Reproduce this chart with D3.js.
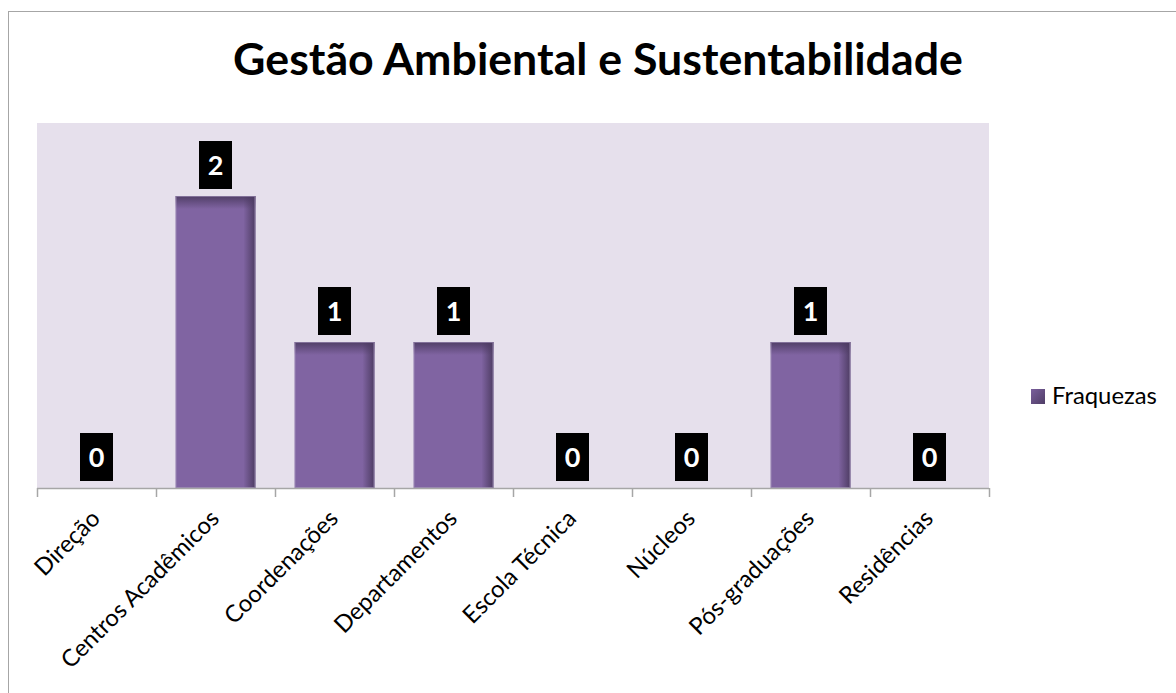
<!DOCTYPE html>
<html>
<head>
<meta charset="utf-8">
<script src="https://cdn.jsdelivr.net/npm/d3@7"></script>
<style>
  body { margin: 0; background: #fff; }
  svg { display: block; }
  text { font-family: Lato, "Open Sans", sans-serif; }
</style>
</head>
<body>
<div id="chart"></div>
<script>
// Dimensions
const width = 1176;
const height = 693;
const plot = {left: 37, right: 989, top: 123, bottom: 488};

// Data
const title = "Gestão Ambiental e Sustentabilidade";
const seriesName = "Fraquezas";
const categories = ["Direção", "Centros Acadêmicos", "Coordenações", "Departamentos",
                    "Escola Técnica", "Núcleos", "Pós-graduações", "Residências"];
const values = [0, 2, 1, 1, 0, 0, 1, 0];
const yMax = 2.5;

// Colours
const barColour = "#8064a2";
const barDark = "#4b3a60";
const plotBg = "#e6e0ec";

const svg = d3.select("#chart").append("svg")
    .attr("width", width)
    .attr("height", height);

const defs = svg.append("defs");

// Shading at the top edge of the bars
const topGrad = defs.append("linearGradient")
    .attr("id", "topShade")
    .attr("x1", "0%").attr("y1", "0%").attr("x2", "0%").attr("y2", "100%");
topGrad.append("stop").attr("offset", "0%").attr("stop-color", barDark).attr("stop-opacity", 0.9);
topGrad.append("stop").attr("offset", "100%").attr("stop-color", barDark).attr("stop-opacity", 0);

// Shading at the right edge of the bars
const rightGrad = defs.append("linearGradient")
    .attr("id", "rightShade")
    .attr("x1", "0%").attr("y1", "0%").attr("x2", "100%").attr("y2", "0%");
rightGrad.append("stop").attr("offset", "0%").attr("stop-color", barDark).attr("stop-opacity", 0);
rightGrad.append("stop").attr("offset", "100%").attr("stop-color", barDark).attr("stop-opacity", 0.95);

// Legend swatch gradient
const legGrad = defs.append("linearGradient")
    .attr("id", "legShade")
    .attr("x1", "0%").attr("y1", "0%").attr("x2", "100%").attr("y2", "100%");
legGrad.append("stop").attr("offset", "0%").attr("stop-color", "#7a5f9c");
legGrad.append("stop").attr("offset", "100%").attr("stop-color", "#4f3d66");

// Chart frame
svg.append("rect")
    .attr("x", 8.5).attr("y", 11.5)
    .attr("width", 1300).attr("height", 900)
    .attr("fill", "#fff")
    .attr("stroke", "#a6a6a6");

// Plot background
svg.append("rect")
    .attr("x", plot.left).attr("y", plot.top)
    .attr("width", plot.right - plot.left)
    .attr("height", plot.bottom - plot.top)
    .attr("fill", plotBg);

// Scales
const xOuter = d3.scaleBand()
    .domain(categories)
    .range([plot.left, plot.right])
    .padding(0);

const x = d3.scaleBand()
    .domain(categories)
    .range([plot.left, plot.right])
    .paddingInner(0.33)
    .paddingOuter(0.165);

const y = d3.scaleLinear()
    .domain([0, yMax])
    .range([plot.bottom, plot.top]);

const data = categories.map((c, i) => ({cat: c, value: values[i]}));

// Bars
const bars = svg.append("g").selectAll("g.bar")
    .data(data.filter(d => d.value > 0))
    .join("g")
    .attr("class", "bar");

bars.append("rect")
    .attr("x", d => x(d.cat))
    .attr("y", d => y(d.value))
    .attr("width", x.bandwidth())
    .attr("height", d => y(0) - y(d.value))
    .attr("fill", barColour);

bars.append("rect")
    .attr("x", d => x(d.cat) + x.bandwidth() - 12)
    .attr("y", d => y(d.value))
    .attr("width", 12)
    .attr("height", d => y(0) - y(d.value))
    .attr("fill", "url(#rightShade)");

bars.append("rect")
    .attr("x", d => x(d.cat))
    .attr("y", d => y(d.value))
    .attr("width", x.bandwidth())
    .attr("height", 13)
    .attr("fill", "url(#topShade)");

bars.append("rect")
    .attr("x", d => x(d.cat) + 0.5)
    .attr("y", d => y(d.value) + 0.5)
    .attr("width", x.bandwidth() - 1)
    .attr("height", d => y(0) - y(d.value) - 1)
    .attr("fill", "none")
    .attr("stroke", "#a493bb")
    .attr("stroke-opacity", 0.6);

// Category axis
const axisG = svg.append("g");
axisG.append("line")
    .attr("x1", plot.left).attr("x2", plot.right)
    .attr("y1", plot.bottom + 0.5).attr("y2", plot.bottom + 0.5)
    .attr("stroke", "#a6a6a6").attr("stroke-width", 1.5);

const tickPos = categories.map(c => xOuter(c)).concat([plot.right]);
axisG.selectAll("line.tick")
    .data(tickPos)
    .join("line")
    .attr("class", "tick")
    .attr("x1", d => Math.round(d) + 0.5).attr("x2", d => Math.round(d) + 0.5)
    .attr("y1", plot.bottom).attr("y2", plot.bottom + 9)
    .attr("stroke", "#a6a6a6").attr("stroke-width", 1.5);

// Fit a text element to a target width by adjusting its font size
function fitSize(sel, base, target) {
    sel.style("font-size", base + "px");
    const w = sel.node().getComputedTextLength();
    return base * target / w;
}

// Category labels, rotated
const catLabels = axisG.selectAll("text.cat")
    .data(categories)
    .join("text")
    .attr("class", "cat")
    .attr("text-anchor", "end")
    .attr("transform", d => `translate(${xOuter(d) + xOuter.bandwidth() / 2 + 5}, 520) rotate(-45)`)
    .attr("fill", "#000")
    .text(d => d);
const catSize = fitSize(catLabels.filter((d, i) => i === 1), 24, 212);
catLabels.style("font-size", catSize + "px");

// Value labels: black box, white bold digits
const labels = svg.append("g").selectAll("g.vlabel")
    .data(data)
    .join("g")
    .attr("class", "vlabel")
    .attr("transform", d => `translate(${x(d.cat) + x.bandwidth() / 2}, ${y(d.value) - 7 - 24})`);

labels.append("rect")
    .attr("x", -16.5).attr("y", -24)
    .attr("width", 33).attr("height", 48)
    .attr("fill", "#000");

labels.append("text")
    .attr("text-anchor", "middle")
    .attr("dy", "0.36em")
    .attr("fill", "#fff")
    .style("font-size", "27px")
    .style("font-weight", "bold")
    .text(d => d.value);

// Title
const titleText = svg.append("text")
    .attr("x", 598)
    .attr("y", 75)
    .attr("text-anchor", "middle")
    .style("font-weight", "bold")
    .attr("fill", "#000")
    .text(title);
titleText.style("font-size", fitSize(titleText, 40, 730) + "px");

// Legend
const legend = svg.append("g").attr("transform", "translate(1031, 389)");
legend.append("rect")
    .attr("width", 14).attr("height", 15)
    .attr("fill", "url(#legShade)");
const legText = legend.append("text")
    .attr("x", 21)
    .attr("y", 15)
    .attr("fill", "#000")
    .text(seriesName);
legText.style("font-size", fitSize(legText, 24, 105) + "px");
</script>
</body>
</html>
